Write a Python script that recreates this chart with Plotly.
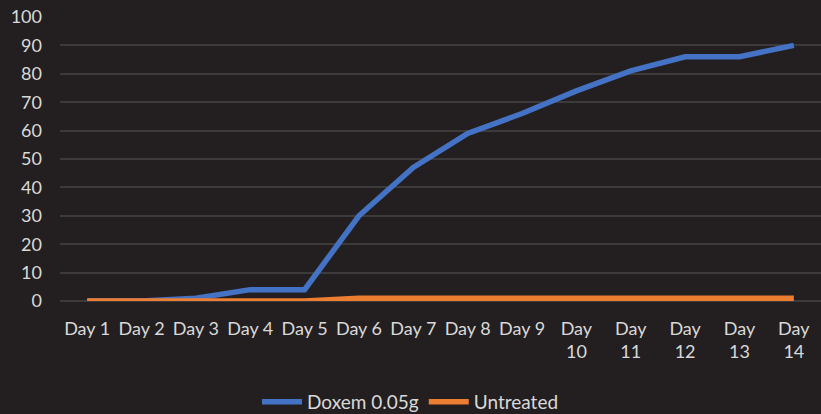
import plotly.graph_objects as go

days = ["Day 1", "Day 2", "Day 3", "Day 4", "Day 5", "Day 6", "Day 7", "Day 8", "Day 9",
        "Day<br>10", "Day<br>11", "Day<br>12", "Day<br>13", "Day<br>14"]
doxem = [0, 0, 1, 4, 4, 30, 47, 59, 66, 74, 81, 86, 86, 90]
untreated = [0, 0, 0, 0, 0, 1, 1, 1, 1, 1, 1, 1, 1, 1]

BG = "#231f20"
GRID = "#3d3a3b"
TXT = "#d9d9d9"
FONT = "Lato"

fig = go.Figure()
fig.add_trace(go.Scatter(x=days, y=doxem, mode="lines", name="Doxem 0.05g",
                         line=dict(color="#4472C4", width=5.5)))
fig.add_trace(go.Scatter(x=days, y=untreated, mode="lines", name="Untreated",
                         line=dict(color="#ED7D31", width=5.5)))

fig.update_layout(
    width=821, height=414,
    margin=dict(l=60, r=0, t=17, b=113, autoexpand=False),
    paper_bgcolor=BG, plot_bgcolor=BG,
    font=dict(family=FONT, size=18, color=TXT),
    showlegend=True,
    legend=dict(orientation="h", x=0.5, xanchor="center", xref="container",
                y=0.029, yanchor="middle", yref="container",
                font=dict(family=FONT, size=19, color=TXT), itemwidth=40,
                bgcolor="rgba(0,0,0,0)"),
    xaxis=dict(type="category", range=[-0.5, 13.5], showgrid=False, zeroline=False,
               showline=False, ticks="", tickfont=dict(size=18, color=TXT),
               ticklabelstandoff=15,
               tickangle=0, fixedrange=True, automargin=False),
    yaxis=dict(range=[0, 100], dtick=10, showgrid=True, gridcolor=GRID, gridwidth=1.5,
               zeroline=True, zerolinecolor=GRID, zerolinewidth=1.5, showline=False,
               ticks="", ticklabelstandoff=17, tickfont=dict(size=18, color=TXT),
               automargin=False, fixedrange=True),
)

fig.write_html("out.html", config={"displayModeBar": False},
               post_script="document.body.style.margin='0';document.body.style.background='%s';" % BG)
